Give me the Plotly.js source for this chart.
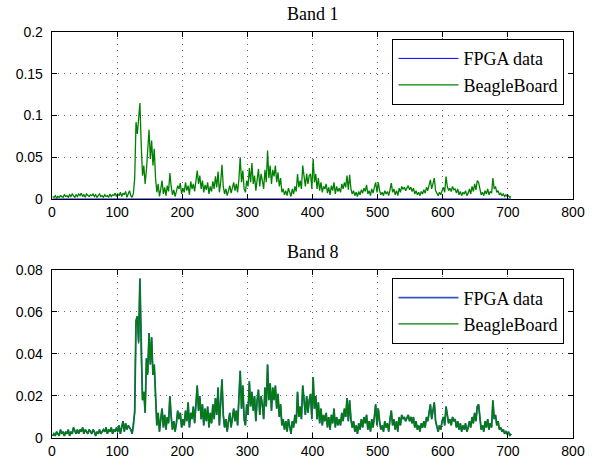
<!DOCTYPE html>
<html>
<head>
<meta charset="utf-8">
<script src="https://cdn.plot.ly/plotly-3.0.1.min.js"></script>
<style>html,body{margin:0;padding:0;background:#fff;}#chart{width:599px;height:460px;}</style>
</head>
<body>
<div id="chart"></div>
<script>
// sample index: x = 1, 3, 5, ... 705
const xStart = 1;
const xStep = 2;

// Band 1 – BeagleBoard output
const band1Beagle = [
0.003,0.002,0.004,0.001,0.003,0.002,0.004,0.003,0.002,0.005,
0.003,0.004,0.002,0.005,0.003,0.006,0.004,0.002,0.005,0.003,
0.006,0.004,0.007,0.003,0.005,0.002,0.006,0.004,0.003,0.005,
0.004,0.006,0.003,0.005,0.002,0.004,0.006,0.003,0.004,0.002,
0.005,0.003,0.004,0.002,0.006,0.003,0.005,0.004,0.007,0.003,
0.006,0.004,0.008,0.003,0.007,0.005,0.009,0.002,0.006,0.010,
0.004,0.002,0.007,0.025,0.092,0.078,0.096,0.115,0.065,0.028,
0.040,0.018,0.035,0.055,0.083,0.048,0.070,0.040,0.060,0.025,
0.008,0.018,0.003,0.012,0.022,0.006,0.014,0.004,0.016,0.009,
0.031,0.015,0.005,0.011,0.003,0.009,0.016,0.012,0.019,0.006,
0.013,0.008,0.020,0.010,0.016,0.005,0.021,0.012,0.018,0.009,
0.025,0.034,0.018,0.028,0.012,0.022,0.008,0.017,0.011,0.020,
0.006,0.015,0.009,0.021,0.012,0.027,0.014,0.033,0.008,0.020,
0.041,0.015,0.006,0.012,0.004,0.009,0.016,0.007,0.013,0.020,
0.010,0.018,0.008,0.024,0.050,0.020,0.034,0.012,0.008,0.022,
0.015,0.037,0.020,0.043,0.018,0.028,0.010,0.025,0.036,0.015,
0.030,0.022,0.012,0.035,0.020,0.058,0.025,0.040,0.018,0.035,
0.027,0.040,0.020,0.032,0.015,0.025,0.008,0.012,0.005,0.010,
0.004,0.013,0.008,0.003,0.012,0.006,0.015,0.009,0.030,0.014,
0.022,0.012,0.040,0.025,0.015,0.030,0.018,0.028,0.030,0.012,
0.048,0.020,0.030,0.012,0.025,0.010,0.020,0.008,0.015,0.012,
0.018,0.007,0.014,0.005,0.016,0.010,0.020,0.006,0.015,0.009,
0.013,0.008,0.018,0.012,0.020,0.014,0.028,0.011,0.029,0.012,
0.006,0.010,0.004,0.008,0.003,0.009,0.005,0.011,0.007,0.013,
0.009,0.017,0.006,0.010,0.004,0.012,0.007,0.014,0.020,0.008,
0.020,0.010,0.005,0.008,0.004,0.010,0.006,0.009,0.004,0.011,
0.019,0.008,0.012,0.005,0.010,0.004,0.013,0.008,0.015,0.012,
0.014,0.010,0.013,0.016,0.011,0.014,0.009,0.013,0.006,0.010,
0.005,0.008,0.004,0.009,0.006,0.011,0.007,0.014,0.010,0.016,
0.023,0.012,0.018,0.025,0.010,0.006,0.004,0.008,0.005,0.010,
0.014,0.008,0.027,0.015,0.010,0.013,0.009,0.015,0.011,0.012,
0.007,0.012,0.005,0.009,0.004,0.008,0.006,0.010,0.004,0.007,
0.012,0.006,0.015,0.009,0.018,0.011,0.022,0.020,0.010,0.005,
0.008,0.004,0.010,0.006,0.012,0.005,0.009,0.007,0.025,0.012,
0.015,0.008,0.010,0.005,0.007,0.004,0.006,0.003,0.005,0.003,
0.004,0.002,0.003
];

// Band 1 – FPGA output (flat at zero)
const band1FpgaX = [1, 705];
const band1Fpga = [0, 0];

// Band 8 – BeagleBoard output
const band8Beagle = [
0.001,0.002,0.001,0.003,0.002,0.001,0.004,0.002,0.003,0.001,
0.003,0.002,0.004,0.001,0.003,0.002,0.005,0.003,0.002,0.004,
0.002,0.004,0.003,0.005,0.002,0.004,0.003,0.002,0.004,0.003,
0.002,0.004,0.003,0.001,0.003,0.002,0.004,0.002,0.003,0.004,
0.003,0.005,0.002,0.004,0.003,0.005,0.002,0.004,0.003,0.005,
0.003,0.006,0.002,0.005,0.008,0.003,0.007,0.004,0.006,0.005,
0.004,0.002,0.006,0.012,0.055,0.058,0.045,0.076,0.040,0.018,
0.022,0.012,0.038,0.030,0.050,0.035,0.048,0.030,0.035,0.020,
0.006,0.012,0.003,0.009,0.014,0.005,0.011,0.004,0.010,0.007,
0.020,0.010,0.004,0.008,0.003,0.007,0.013,0.009,0.012,0.005,
0.009,0.006,0.013,0.008,0.017,0.005,0.012,0.009,0.015,0.007,
0.018,0.025,0.013,0.020,0.009,0.016,0.006,0.014,0.008,0.015,
0.005,0.012,0.007,0.016,0.009,0.019,0.011,0.024,0.006,0.015,
0.028,0.011,0.005,0.009,0.003,0.008,0.012,0.005,0.010,0.014,
0.008,0.013,0.006,0.018,0.032,0.014,0.025,0.009,0.006,0.016,
0.011,0.027,0.015,0.022,0.013,0.020,0.008,0.018,0.023,0.011,
0.020,0.016,0.009,0.024,0.015,0.035,0.018,0.026,0.013,0.024,
0.018,0.025,0.014,0.021,0.010,0.016,0.006,0.009,0.004,0.008,
0.003,0.009,0.006,0.002,0.008,0.005,0.011,0.007,0.022,0.010,
0.015,0.009,0.025,0.017,0.011,0.020,0.012,0.018,0.021,0.009,
0.029,0.014,0.020,0.009,0.017,0.007,0.014,0.006,0.011,0.008,
0.012,0.005,0.010,0.004,0.011,0.007,0.014,0.005,0.010,0.006,
0.009,0.006,0.012,0.008,0.014,0.010,0.019,0.008,0.018,0.009,
0.005,0.008,0.003,0.006,0.002,0.007,0.004,0.009,0.005,0.010,
0.007,0.011,0.004,0.008,0.003,0.009,0.005,0.010,0.016,0.006,
0.014,0.008,0.004,0.006,0.003,0.008,0.005,0.007,0.003,0.009,
0.013,0.006,0.009,0.004,0.008,0.003,0.010,0.006,0.011,0.009,
0.010,0.008,0.010,0.011,0.008,0.010,0.007,0.010,0.005,0.008,
0.004,0.006,0.003,0.007,0.005,0.008,0.005,0.010,0.008,0.012,
0.016,0.009,0.013,0.017,0.008,0.005,0.003,0.006,0.004,0.008,
0.010,0.006,0.015,0.011,0.007,0.009,0.006,0.010,0.008,0.009,
0.005,0.008,0.004,0.007,0.003,0.006,0.004,0.007,0.003,0.005,
0.008,0.005,0.010,0.007,0.012,0.008,0.015,0.016,0.008,0.004,
0.006,0.003,0.008,0.005,0.009,0.004,0.007,0.005,0.018,0.009,
0.011,0.006,0.008,0.004,0.005,0.003,0.004,0.002,0.003,0.002,
0.003,0.001,0.002
];

// Band 8 – FPGA output (almost identical to BeagleBoard)
const band8Fpga = [
0.001,0.002,0.001,0.003,0.002,0.001,0.004,0.002,0.003,0.001,
0.003,0.002,0.004,0.001,0.003,0.002,0.005,0.003,0.002,0.004,
0.002,0.004,0.003,0.005,0.002,0.004,0.003,0.002,0.004,0.003,
0.002,0.004,0.003,0.001,0.003,0.002,0.004,0.002,0.003,0.004,
0.003,0.005,0.002,0.004,0.003,0.005,0.002,0.004,0.003,0.005,
0.003,0.006,0.002,0.005,0.008,0.003,0.007,0.004,0.006,0.005,
0.004,0.002,0.006,0.013,0.056,0.058,0.046,0.076,0.041,0.018,
0.022,0.012,0.038,0.031,0.050,0.035,0.048,0.030,0.035,0.020,
0.006,0.012,0.003,0.009,0.014,0.005,0.011,0.004,0.010,0.007,
0.020,0.010,0.004,0.008,0.003,0.007,0.013,0.009,0.012,0.005,
0.009,0.006,0.013,0.008,0.017,0.005,0.012,0.009,0.015,0.007,
0.018,0.025,0.013,0.020,0.009,0.016,0.006,0.014,0.008,0.015,
0.005,0.012,0.007,0.016,0.009,0.019,0.011,0.024,0.006,0.015,
0.028,0.011,0.005,0.009,0.003,0.008,0.012,0.005,0.010,0.014,
0.008,0.013,0.006,0.018,0.032,0.014,0.025,0.009,0.006,0.016,
0.011,0.027,0.015,0.022,0.013,0.020,0.008,0.018,0.023,0.011,
0.020,0.016,0.009,0.024,0.015,0.035,0.018,0.026,0.013,0.024,
0.018,0.025,0.014,0.021,0.010,0.016,0.006,0.009,0.004,0.008,
0.003,0.009,0.006,0.002,0.008,0.005,0.011,0.007,0.022,0.010,
0.015,0.009,0.025,0.017,0.011,0.020,0.012,0.018,0.021,0.009,
0.029,0.014,0.020,0.009,0.017,0.007,0.014,0.006,0.011,0.008,
0.012,0.005,0.010,0.004,0.011,0.007,0.014,0.005,0.010,0.006,
0.009,0.006,0.012,0.008,0.014,0.010,0.019,0.008,0.018,0.009,
0.005,0.008,0.003,0.006,0.002,0.007,0.004,0.009,0.005,0.010,
0.007,0.011,0.004,0.008,0.003,0.009,0.005,0.010,0.016,0.006,
0.014,0.008,0.004,0.006,0.003,0.008,0.005,0.007,0.003,0.009,
0.013,0.006,0.009,0.004,0.008,0.003,0.010,0.006,0.011,0.009,
0.010,0.008,0.010,0.011,0.008,0.010,0.007,0.010,0.005,0.008,
0.004,0.006,0.003,0.007,0.005,0.008,0.005,0.010,0.008,0.012,
0.016,0.009,0.013,0.017,0.008,0.005,0.003,0.006,0.004,0.008,
0.010,0.006,0.015,0.011,0.007,0.009,0.006,0.010,0.008,0.009,
0.005,0.008,0.004,0.007,0.003,0.006,0.004,0.007,0.003,0.005,
0.008,0.005,0.010,0.007,0.012,0.008,0.015,0.016,0.008,0.004,
0.006,0.003,0.008,0.005,0.009,0.004,0.007,0.005,0.018,0.009,
0.011,0.006,0.008,0.004,0.005,0.003,0.004,0.002,0.003,0.002,
0.003,0.001,0.002
];

const seriesNames = ['FPGA data', 'BeagleBoard'];
const titles = ['Band 1', 'Band 8'];
const xTicks = [0, 100, 200, 300, 400, 500, 600, 700, 800];
const y1Ticks = [0, 0.05, 0.1, 0.15, 0.2];
const y1TickText = ['0', '0.05', '0.1', '0.15', '0.2'];
const y2Ticks = [0, 0.02, 0.04, 0.06, 0.08];
const y2TickText = ['0', '0.02', '0.04', '0.06', '0.08'];

const xs = band1Beagle.map((_, i) => xStart + i * xStep);
const xs8 = band8Beagle.map((_, i) => xStart + i * xStep);

const BLUE = '#0000ff';
const GREEN = '#008000';

const traces = [
  {x: band1FpgaX, y: band1Fpga, name: seriesNames[0], type: 'scatter', mode: 'lines',
   line: {color: BLUE, width: 1}, xaxis: 'x', yaxis: 'y', legend: 'legend'},
  {x: xs, y: band1Beagle, name: seriesNames[1], type: 'scatter', mode: 'lines',
   line: {color: GREEN, width: 1.3}, xaxis: 'x', yaxis: 'y', legend: 'legend'},
  {x: xs8, y: band8Fpga, name: seriesNames[0], type: 'scatter', mode: 'lines',
   line: {color: '#3355cc', width: 1.8}, xaxis: 'x2', yaxis: 'y2', legend: 'legend2'},
  {x: xs8, y: band8Beagle, name: seriesNames[1], type: 'scatter', mode: 'lines',
   line: {color: GREEN, width: 1.3}, xaxis: 'x2', yaxis: 'y2', legend: 'legend2'}
];

const tickFont = {family: 'Liberation Sans, Arial, sans-serif', size: 14, color: '#000'};
const serif = 'Liberation Serif, Times New Roman, serif';

function xAxis(anchor) {
  return {
    range: [0, 800], tickvals: xTicks, ticktext: xTicks.map(String),
    ticks: 'inside', ticklen: 5, tickcolor: '#000', mirror: 'ticks',
    showline: true, linecolor: '#000', linewidth: 1.3,
    showgrid: true, gridcolor: '#666', griddash: '1px,5px', gridwidth: 1,
    zeroline: false, tickfont: tickFont, anchor: anchor, ticklabelstandoff: 0,
    fixedrange: true
  };
}
function yAxis(anchor, domain, range, tv, tt) {
  return {
    domain: domain, range: range, tickvals: tv, ticktext: tt,
    ticks: 'inside', ticklen: 5, tickcolor: '#000', mirror: 'ticks',
    showline: true, linecolor: '#000', linewidth: 1.3,
    showgrid: true, gridcolor: '#666', griddash: '1px,5px', gridwidth: 1,
    zeroline: false, tickfont: tickFont, anchor: anchor, ticklabelstandoff: 5,
    fixedrange: true
  };
}

const legendStyle = (y) => ({
  x: 0.983, xanchor: 'right', y: y, yanchor: 'top',
  bgcolor: '#fff', bordercolor: '#000', borderwidth: 1.3,
  font: {family: serif, size: 18, color: '#000'},
  itemwidth: 60, tracegroupgap: 0
});

const layout = {
  width: 599, height: 460,
  margin: {l: 52, r: 26, t: 32, b: 22},
  paper_bgcolor: '#fff', plot_bgcolor: '#fff',
  showlegend: true,
  xaxis: xAxis('y'),
  yaxis: yAxis('x', [0.5887, 1], [0, 0.2], y1Ticks, y1TickText),
  xaxis2: xAxis('y2'),
  yaxis2: yAxis('x2', [0, 0.4138], [0, 0.08], y2Ticks, y2TickText),
  legend: legendStyle(0.983),
  legend2: legendStyle(0.394),
  annotations: [
    {text: titles[0], xref: 'paper', yref: 'paper', x: 0.5, y: 1, xanchor: 'center', yanchor: 'bottom',
     yshift: 6, showarrow: false, font: {family: serif, size: 18, color: '#000'}},
    {text: titles[1], xref: 'paper', yref: 'paper', x: 0.5, y: 0.4138, xanchor: 'center', yanchor: 'bottom',
     yshift: 6, showarrow: false, font: {family: serif, size: 18, color: '#000'}}
  ]
};

Plotly.newPlot('chart', traces, layout, {displayModeBar: false, staticPlot: true});
</script>
</body>
</html>
